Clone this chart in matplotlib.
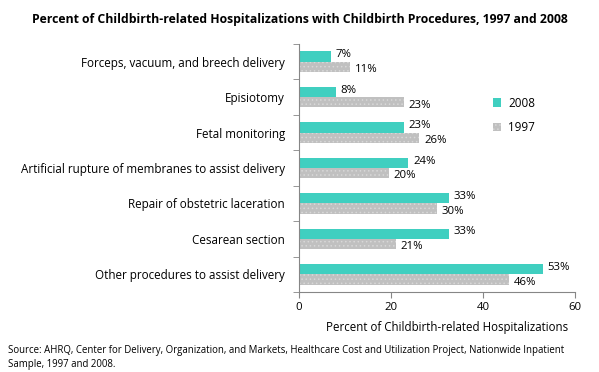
import matplotlib
matplotlib.use("Agg")
import matplotlib.pyplot as plt
import numpy as np

plt.rcParams['font.family'] = ['Open Sans', 'DejaVu Sans']
plt.rcParams['hatch.color'] = '#d8d8d8'
plt.rcParams['hatch.linewidth'] = 0.6

categories = [
    "Forceps, vacuum, and breech delivery",
    "Episiotomy",
    "Fetal monitoring",
    "Artificial rupture of membranes to assist delivery",
    "Repair of obstetric laceration",
    "Cesarean section",
    "Other procedures to assist delivery",
]
values_2008 = [7, 8, 23, 24, 33, 33, 53]
values_1997 = [11, 23, 26, 20, 30, 21, 46]
bars_2008 = [7, 8, 22.8, 23.8, 32.6, 32.6, 53.0]
bars_1997 = [11.2, 22.8, 26.2, 19.5, 30.0, 21.1, 45.6]
xticks = [0, 20, 40, 60]

teal = '#40cfc0'
gray = '#c0c0c0'
axis_gray = '#868686'

fig = plt.figure(figsize=(5.99, 3.72), dpi=100)
ax = fig.add_axes([0.499, 0.215, 0.461, 0.667])

y = np.arange(len(categories))
h = 0.29
ax.barh(y - h / 2, bars_2008, height=h, color=teal, label='2008', linewidth=0)
ax.barh(y + h / 2, bars_1997, height=h, color=gray, label='1997',
        hatch='....', linewidth=0)

for yi, v, b in zip(y, values_2008, bars_2008):
    ax.text(b + 1, yi - h / 2 - 0.05, f"{v}%", va='center', ha='left', fontsize=8.2)
for yi, v, b in zip(y, values_1997, bars_1997):
    ax.text(b + 1, yi + h / 2 + 0.08, f"{v}%", va='center', ha='left', fontsize=8.2)

ax.set_ylim(len(categories) - 0.5, -0.5)
ax.set_xlim(0, 60)
ax.set_xticks(xticks)
ax.set_xticklabels([str(t) for t in xticks], fontsize=8.2)
ax.set_yticks(y)
ax.set_yticklabels(categories, fontsize=8.4)
ax.set_yticks(np.arange(len(categories) + 1) - 0.5, minor=True)
ax.tick_params(axis='y', which='major', length=0, pad=10)
ax.tick_params(axis='y', which='minor', length=4, color=axis_gray)
ax.tick_params(axis='x', length=4, color=axis_gray, pad=3)
for s in ['top', 'right']:
    ax.spines[s].set_visible(False)
for s in ['left', 'bottom']:
    ax.spines[s].set_color(axis_gray)
ax.set_xlabel('Percent of Childbirth-related Hospitalizations', fontsize=8.3, labelpad=5)
ax.xaxis.set_label_coords(0.535, -0.115)

ax.legend(loc='upper left', bbox_to_anchor=(0.665, 0.83), frameon=False,
          fontsize=8.4, handlelength=0.7, handleheight=0.7, labelspacing=1.0,
          handletextpad=0.6)

fig.text(0.5, 0.948, 'Percent of Childbirth-related Hospitalizations with Childbirth Procedures, 1997 and 2008',
         ha='center', va='center', fontsize=8.8, fontweight='bold')
fig.text(0.013, 0.04, 'Source: AHRQ, Center for Delivery, Organization, and Markets, Healthcare Cost and Utilization Project, Nationwide Inpatient\nSample, 1997 and 2008.',
         ha='left', va='center', fontsize=6.9, linespacing=1.35)

fig.savefig('out.png', dpi=100)
